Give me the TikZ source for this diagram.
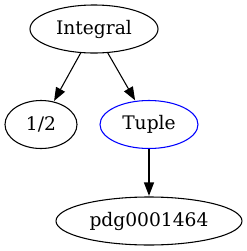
\documentclass[tikz,border=0pt]{standalone}
\usepackage{fontspec}
\setmainfont{DejaVu Serif}
\usetikzlibrary{shapes.geometric,arrows.meta}
\begin{document}
\begin{tikzpicture}[x=0.75pt,y=-0.75pt,
  gnode/.style={ellipse,draw=black,line width=0.8pt,inner sep=0pt,minimum height=36pt,font=\fontsize{14pt}{16pt}\selectfont},
  gedge/.style={draw=black,line width=0.8pt,-{Triangle[length=10pt,width=7.5pt]},shorten >=0.5pt}]
\useasboundingbox (0,0) rectangle (247,251);
\node[gnode,minimum width=96pt] (integral) at (94,29) {Integral};
\node[gnode,minimum width=54pt] (half) at (41,124.5) {1/2};
\node[gnode,minimum width=73.5pt,draw=blue] (tuple) at (149,124.5) {Tuple};
\node[gnode,minimum width=139.5pt] (pdg) at (149,221) {pdg0001464};
\draw[gedge] (integral) -- (half);
\draw[gedge] (integral) -- (tuple);
\draw[gedge] (tuple) -- (pdg);
\end{tikzpicture}
\end{document}
